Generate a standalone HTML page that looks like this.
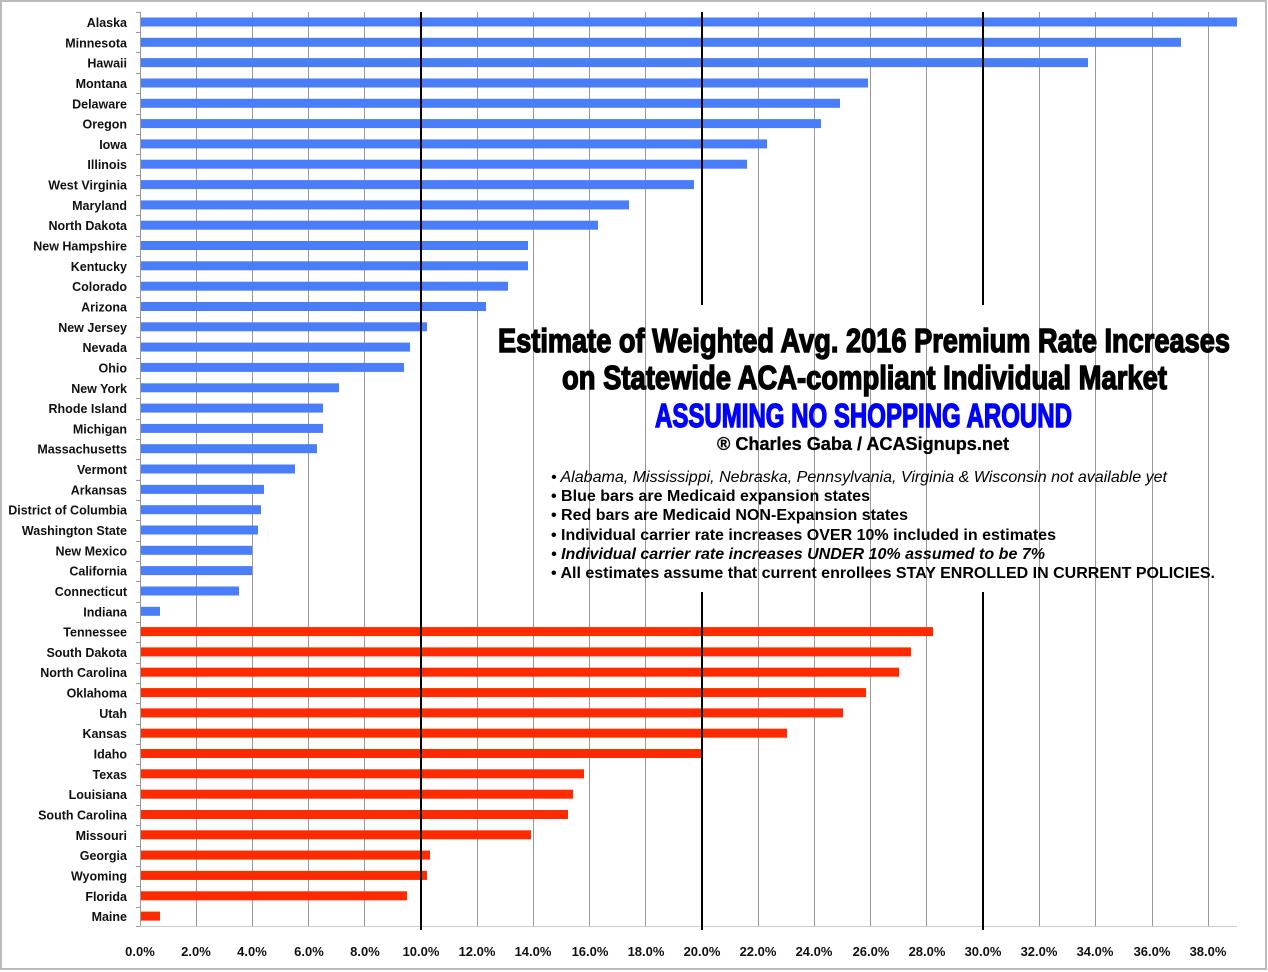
<!DOCTYPE html>
<html><head><meta charset="utf-8"><style>
html,body{margin:0;padding:0;background:#fff}
svg{display:block}
.l{font-family:"Liberation Sans",Arial,sans-serif;font-weight:bold;font-size:12.5px;fill:#111;text-anchor:end}
.a{font-family:"Liberation Sans",Arial,sans-serif;font-weight:bold;font-size:13px;fill:#111;text-anchor:middle}
.t{font-family:"Liberation Sans Narrow","Liberation Sans",sans-serif;font-weight:bold;fill:#000;stroke:#000;stroke-width:1.4px}
.b{font-family:"Liberation Sans Narrow","Liberation Sans",sans-serif;font-size:16px;fill:#000}
</style></head><body>
<svg width="1268" height="972" viewBox="0 0 1268 972">
<rect x="1" y="1" width="1265" height="968" fill="#fff" stroke="#bbb" stroke-width="2"/>
<g stroke="#999" stroke-width="1">
<line x1="196.5" y1="12" x2="196.5" y2="927"/><line x1="252.5" y1="12" x2="252.5" y2="927"/><line x1="308.5" y1="12" x2="308.5" y2="927"/><line x1="364.5" y1="12" x2="364.5" y2="927"/><line x1="477.5" y1="12" x2="477.5" y2="927"/><line x1="533.5" y1="12" x2="533.5" y2="927"/><line x1="589.5" y1="12" x2="589.5" y2="927"/><line x1="645.5" y1="12" x2="645.5" y2="927"/><line x1="758.5" y1="12" x2="758.5" y2="927"/><line x1="814.5" y1="12" x2="814.5" y2="927"/><line x1="870.5" y1="12" x2="870.5" y2="927"/><line x1="926.5" y1="12" x2="926.5" y2="927"/><line x1="1039.5" y1="12" x2="1039.5" y2="927"/><line x1="1095.5" y1="12" x2="1095.5" y2="927"/><line x1="1152.5" y1="12" x2="1152.5" y2="927"/><line x1="1208.5" y1="12" x2="1208.5" y2="927"/>
<line x1="140.5" y1="12" x2="140.5" y2="927"/>
<line x1="140" y1="926.5" x2="1237" y2="926.5" stroke="#ccc"/>
</g>
<g stroke="#999">
<line x1="136" y1="12.5" x2="140" y2="12.5"/><line x1="136" y1="32.5" x2="140" y2="32.5"/><line x1="136" y1="52.5" x2="140" y2="52.5"/><line x1="136" y1="73.5" x2="140" y2="73.5"/><line x1="136" y1="93.5" x2="140" y2="93.5"/><line x1="136" y1="114.5" x2="140" y2="114.5"/><line x1="136" y1="134.5" x2="140" y2="134.5"/><line x1="136" y1="154.5" x2="140" y2="154.5"/><line x1="136" y1="175.5" x2="140" y2="175.5"/><line x1="136" y1="195.5" x2="140" y2="195.5"/><line x1="136" y1="215.5" x2="140" y2="215.5"/><line x1="136" y1="236.5" x2="140" y2="236.5"/><line x1="136" y1="256.5" x2="140" y2="256.5"/><line x1="136" y1="276.5" x2="140" y2="276.5"/><line x1="136" y1="297.5" x2="140" y2="297.5"/><line x1="136" y1="317.5" x2="140" y2="317.5"/><line x1="136" y1="337.5" x2="140" y2="337.5"/><line x1="136" y1="358.5" x2="140" y2="358.5"/><line x1="136" y1="378.5" x2="140" y2="378.5"/><line x1="136" y1="398.5" x2="140" y2="398.5"/><line x1="136" y1="419.5" x2="140" y2="419.5"/><line x1="136" y1="439.5" x2="140" y2="439.5"/><line x1="136" y1="459.5" x2="140" y2="459.5"/><line x1="136" y1="480.5" x2="140" y2="480.5"/><line x1="136" y1="500.5" x2="140" y2="500.5"/><line x1="136" y1="520.5" x2="140" y2="520.5"/><line x1="136" y1="541.5" x2="140" y2="541.5"/><line x1="136" y1="561.5" x2="140" y2="561.5"/><line x1="136" y1="581.5" x2="140" y2="581.5"/><line x1="136" y1="602.5" x2="140" y2="602.5"/><line x1="136" y1="622.5" x2="140" y2="622.5"/><line x1="136" y1="642.5" x2="140" y2="642.5"/><line x1="136" y1="663.5" x2="140" y2="663.5"/><line x1="136" y1="683.5" x2="140" y2="683.5"/><line x1="136" y1="703.5" x2="140" y2="703.5"/><line x1="136" y1="724.5" x2="140" y2="724.5"/><line x1="136" y1="744.5" x2="140" y2="744.5"/><line x1="136" y1="764.5" x2="140" y2="764.5"/><line x1="136" y1="785.5" x2="140" y2="785.5"/><line x1="136" y1="805.5" x2="140" y2="805.5"/><line x1="136" y1="825.5" x2="140" y2="825.5"/><line x1="136" y1="846.5" x2="140" y2="846.5"/><line x1="136" y1="866.5" x2="140" y2="866.5"/><line x1="136" y1="886.5" x2="140" y2="886.5"/><line x1="136" y1="907.5" x2="140" y2="907.5"/><line x1="136" y1="926.5" x2="140" y2="926.5"/>
</g>
<g fill="#4a7dfa">
<rect x="141" y="17.5" width="1096" height="9"/>
<rect x="141" y="37.8" width="1040" height="9"/>
<rect x="141" y="58.1" width="947" height="9"/>
<rect x="141" y="78.5" width="727" height="9"/>
<rect x="141" y="98.8" width="699" height="9"/>
<rect x="141" y="119.1" width="680" height="9"/>
<rect x="141" y="139.4" width="626" height="9"/>
<rect x="141" y="159.7" width="606" height="9"/>
<rect x="141" y="180.1" width="553" height="9"/>
<rect x="141" y="200.4" width="488" height="9"/>
<rect x="141" y="220.7" width="457" height="9"/>
<rect x="141" y="241.0" width="387" height="9"/>
<rect x="141" y="261.3" width="387" height="9"/>
<rect x="141" y="281.7" width="367" height="9"/>
<rect x="141" y="302.0" width="345" height="9"/>
<rect x="141" y="322.3" width="286" height="9"/>
<rect x="141" y="342.6" width="269" height="9"/>
<rect x="141" y="362.9" width="263" height="9"/>
<rect x="141" y="383.3" width="198" height="9"/>
<rect x="141" y="403.6" width="182" height="9"/>
<rect x="141" y="423.9" width="182" height="9"/>
<rect x="141" y="444.2" width="176" height="9"/>
<rect x="141" y="464.5" width="154" height="9"/>
<rect x="141" y="484.9" width="123" height="9"/>
<rect x="141" y="505.2" width="120" height="9"/>
<rect x="141" y="525.5" width="117" height="9"/>
<rect x="141" y="545.8" width="111" height="9"/>
<rect x="141" y="566.1" width="111" height="9"/>
<rect x="141" y="586.5" width="98" height="9"/>
<rect x="141" y="606.8" width="19" height="9"/>
</g>
<g fill="#ff2a00">
<rect x="141" y="627.1" width="792" height="9"/>
<rect x="141" y="647.4" width="770" height="9"/>
<rect x="141" y="667.7" width="758" height="9"/>
<rect x="141" y="688.1" width="725" height="9"/>
<rect x="141" y="708.4" width="702" height="9"/>
<rect x="141" y="728.7" width="646" height="9"/>
<rect x="141" y="749.0" width="561" height="9"/>
<rect x="141" y="769.3" width="443" height="9"/>
<rect x="141" y="789.7" width="432" height="9"/>
<rect x="141" y="810.0" width="427" height="9"/>
<rect x="141" y="830.3" width="390" height="9"/>
<rect x="141" y="850.6" width="289" height="9"/>
<rect x="141" y="870.9" width="286" height="9"/>
<rect x="141" y="891.3" width="266" height="9"/>
<rect x="141" y="911.6" width="19" height="9"/>
</g>
<g stroke="#000" stroke-width="2">
<line x1="421" y1="12" x2="421" y2="930"/>
<line x1="702" y1="12" x2="702" y2="305"/><line x1="702" y1="592" x2="702" y2="930"/>
<line x1="983" y1="12" x2="983" y2="305"/><line x1="983" y1="592" x2="983" y2="930"/>
</g>
<g class="l">
<text x="127" y="27">Alaska</text><text x="127" y="47.3">Minnesota</text><text x="127" y="67.6">Hawaii</text><text x="127" y="88">Montana</text><text x="127" y="108.3">Delaware</text><text x="127" y="128.6">Oregon</text><text x="127" y="148.9">Iowa</text><text x="127" y="169.2">Illinois</text><text x="127" y="189.6">West Virginia</text><text x="127" y="209.9">Maryland</text><text x="127" y="230.2">North Dakota</text><text x="127" y="250.5">New Hampshire</text><text x="127" y="270.8">Kentucky</text><text x="127" y="291.2">Colorado</text><text x="127" y="311.5">Arizona</text><text x="127" y="331.8">New Jersey</text><text x="127" y="352.1">Nevada</text><text x="127" y="372.4">Ohio</text><text x="127" y="392.8">New York</text><text x="127" y="413.1">Rhode Island</text><text x="127" y="433.4">Michigan</text><text x="127" y="453.7">Massachusetts</text><text x="127" y="474">Vermont</text><text x="127" y="494.4">Arkansas</text><text x="127" y="514.7">District of Columbia</text><text x="127" y="535">Washington State</text><text x="127" y="555.3">New Mexico</text><text x="127" y="575.6">California</text><text x="127" y="596">Connecticut</text><text x="127" y="616.3">Indiana</text><text x="127" y="636.6">Tennessee</text><text x="127" y="656.9">South Dakota</text><text x="127" y="677.2">North Carolina</text><text x="127" y="697.6">Oklahoma</text><text x="127" y="717.9">Utah</text><text x="127" y="738.2">Kansas</text><text x="127" y="758.5">Idaho</text><text x="127" y="778.8">Texas</text><text x="127" y="799.2">Louisiana</text><text x="127" y="819.5">South Carolina</text><text x="127" y="839.8">Missouri</text><text x="127" y="860.1">Georgia</text><text x="127" y="880.4">Wyoming</text><text x="127" y="900.8">Florida</text><text x="127" y="921.1">Maine</text>
</g>
<g class="a">
<text x="140" y="956">0.0%</text><text x="196" y="956">2.0%</text><text x="252" y="956">4.0%</text><text x="309" y="956">6.0%</text><text x="365" y="956">8.0%</text><text x="421" y="956">10.0%</text><text x="477" y="956">12.0%</text><text x="533" y="956">14.0%</text><text x="590" y="956">16.0%</text><text x="646" y="956">18.0%</text><text x="702" y="956">20.0%</text><text x="758" y="956">22.0%</text><text x="814" y="956">24.0%</text><text x="871" y="956">26.0%</text><text x="927" y="956">28.0%</text><text x="983" y="956">30.0%</text><text x="1039" y="956">32.0%</text><text x="1095" y="956">34.0%</text><text x="1152" y="956">36.0%</text><text x="1208" y="956">38.0%</text>
</g>
<text class="t" x="498" y="352" font-size="33" textLength="732" lengthAdjust="spacingAndGlyphs">Estimate of Weighted Avg. 2016 Premium Rate Increases</text>
<text class="t" x="562" y="389" font-size="33" textLength="605" lengthAdjust="spacingAndGlyphs">on Statewide ACA-compliant Individual Market</text>
<text class="t" x="655" y="427" font-size="33" style="fill:#0000ff;stroke:#0000ff" textLength="417" lengthAdjust="spacingAndGlyphs">ASSUMING NO SHOPPING AROUND</text>
<text x="717" y="450" font-family="Liberation Sans Narrow, Liberation Sans, sans-serif" font-weight="bold" font-size="18" stroke="#000" stroke-width="0.3" textLength="292" lengthAdjust="spacingAndGlyphs">® Charles Gaba / ACASignups.net</text>
<text class="b" x="551" y="482" font-style="italic" textLength="616" lengthAdjust="spacingAndGlyphs">• Alabama, Mississippi, Nebraska, Pennsylvania, Virginia &amp; Wisconsin not available yet</text>
<text class="b" x="551" y="501" font-weight="bold" textLength="319" lengthAdjust="spacingAndGlyphs">• Blue bars are Medicaid expansion states</text>
<text class="b" x="551" y="520" font-weight="bold" textLength="357" lengthAdjust="spacingAndGlyphs">• Red bars are Medicaid NON-Expansion states</text>
<text class="b" x="551" y="540" font-weight="bold" textLength="505" lengthAdjust="spacingAndGlyphs">• Individual carrier rate increases OVER 10% included in estimates</text>
<text class="b" x="551" y="559" font-weight="bold" font-style="italic" textLength="494" lengthAdjust="spacingAndGlyphs">• Individual carrier rate increases UNDER 10% assumed to be 7%</text>
<text class="b" x="551" y="578" font-weight="bold" textLength="664" lengthAdjust="spacingAndGlyphs">• All estimates assume that current enrollees STAY ENROLLED IN CURRENT POLICIES.</text>
</svg>
</body></html>
